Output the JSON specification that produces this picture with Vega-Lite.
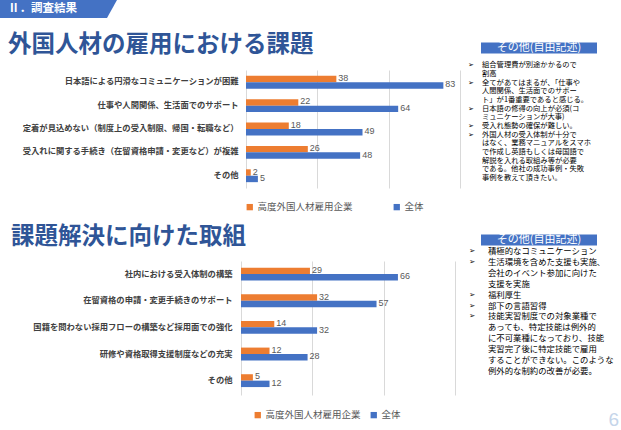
{
  "$schema": "https://vega.github.io/schema/vega-lite/v6.json",
  "padding": 0,
  "background": "white",
  "config": {
    "view": {"stroke": null},
    "font": "Noto Sans CJK JP"
  },
  "datasets": {
    "hdr": [{"label": "Ⅱ．調査結果"}],
    "z": [{"z": 0}],
    "c1": [
      {"cat": "日本語による円滑なコミュニケーションが困難", "series": "高度外国人材雇用企業", "value": 38},
      {"cat": "日本語による円滑なコミュニケーションが困難", "series": "全体", "value": 83},
      {"cat": "仕事や人間関係、生活面でのサポート", "series": "高度外国人材雇用企業", "value": 22},
      {"cat": "仕事や人間関係、生活面でのサポート", "series": "全体", "value": 64},
      {"cat": "定着が見込めない（制度上の受入制限、帰国・転職など）", "series": "高度外国人材雇用企業", "value": 18},
      {"cat": "定着が見込めない（制度上の受入制限、帰国・転職など）", "series": "全体", "value": 49},
      {"cat": "受入れに関する手続き（在留資格申請・変更など）が複雑", "series": "高度外国人材雇用企業", "value": 26},
      {"cat": "受入れに関する手続き（在留資格申請・変更など）が複雑", "series": "全体", "value": 48},
      {"cat": "その他", "series": "高度外国人材雇用企業", "value": 2},
      {"cat": "その他", "series": "全体", "value": 5}
    ],
    "c2": [
      {"cat": "社内における受入体制の構築", "series": "高度外国人材雇用企業", "value": 29},
      {"cat": "社内における受入体制の構築", "series": "全体", "value": 66},
      {"cat": "在留資格の申請・変更手続きのサポート", "series": "高度外国人材雇用企業", "value": 32},
      {"cat": "在留資格の申請・変更手続きのサポート", "series": "全体", "value": 57},
      {"cat": "国籍を問わない採用フローの構築など採用面での強化", "series": "高度外国人材雇用企業", "value": 14},
      {"cat": "国籍を問わない採用フローの構築など採用面での強化", "series": "全体", "value": 32},
      {"cat": "研修や資格取得支援制度などの充実", "series": "高度外国人材雇用企業", "value": 12},
      {"cat": "研修や資格取得支援制度などの充実", "series": "全体", "value": 28},
      {"cat": "その他", "series": "高度外国人材雇用企業", "value": 5},
      {"cat": "その他", "series": "全体", "value": 12}
    ],
    "p1": [
      {"n": 0, "kind": "h", "t": "その他(自由記述)"},
      {"n": 2, "kind": "t", "m": "➢", "t": "組合管理費が別途かかるので"},
      {"n": 3, "kind": "t", "t": "割高"},
      {"n": 4, "kind": "t", "m": "➢", "t": "全てがあてはまるが、「仕事や"},
      {"n": 5, "kind": "t", "t": "人間関係、生活面でのサポー"},
      {"n": 6, "kind": "t", "t": "ト」が1番重要であると感じる。"},
      {"n": 7, "kind": "t", "m": "➢", "t": "日本語の修得の向上が必須(コ"},
      {"n": 8, "kind": "t", "t": "ミュニケーションが大事)"},
      {"n": 9, "kind": "t", "m": "➢", "t": "受入れ態勢の確保が難しい。"},
      {"n": 10, "kind": "t", "m": "➢", "t": "外国人材の受入体制が十分で"},
      {"n": 11, "kind": "t", "t": "はなく、業務マニュアルをスマホ"},
      {"n": 12, "kind": "t", "t": "で作成し英語もしくは母国語で"},
      {"n": 13, "kind": "t", "t": "解説を入れる取組み等が必要"},
      {"n": 14, "kind": "t", "t": "である。他社の成功事例・失敗"},
      {"n": 15, "kind": "t", "t": "事例を教えて頂きたい。"}
    ],
    "p2": [
      {"n": 0, "kind": "h", "t": "その他(自由記述)"},
      {"n": 1, "kind": "t", "m": "➢", "t": "積極的なコミュニケーション"},
      {"n": 2, "kind": "t", "m": "➢", "t": "生活環境を含めた支援も実施、"},
      {"n": 3, "kind": "t", "t": "会社のイベント参加に向けた"},
      {"n": 4, "kind": "t", "t": "支援を実施"},
      {"n": 5, "kind": "t", "m": "➢", "t": "福利厚生"},
      {"n": 6, "kind": "t", "m": "➢", "t": "部下の言語習得"},
      {"n": 7, "kind": "t", "m": "➢", "t": "技能実習制度での対象業種で"},
      {"n": 8, "kind": "t", "t": "あっても、特定技能は例外的"},
      {"n": 9, "kind": "t", "t": "に不可業種になっており、技能"},
      {"n": 10, "kind": "t", "t": "実習完了後に特定技能で雇用"},
      {"n": 11, "kind": "t", "t": "することができない。このような"},
      {"n": 12, "kind": "t", "t": "例外的な制約の改善が必要。"},
      {"n": 16, "kind": "page", "t": "6"}
    ]
  },
  "spacing": 14,
  "vconcat": [
    {
      "data": {"name": "hdr"},
      "width": 117,
      "height": 18,
      "layer": [
        {
          "mark": {"type": "point", "shape": "M-1,-0.1538L1,-0.1538L0.829,0.1538L-1,0.1538Z", "size": 13689, "filled": true, "color": "#4472C4", "fill": "#4472C4", "opacity": 1, "strokeWidth": 0},
          "encoding": {}
        },
        {
          "mark": {"type": "text", "align": "left", "baseline": "middle", "dx": -50.5, "color": "white", "fontSize": 11.5, "fontWeight": "bold"},
          "encoding": {"text": {"field": "label"}}
        }
      ]
    },
    {
      "spacing": 12,
      "resolve": {"scale": {"color": "independent"}, "legend": {"color": "independent"}},
      "vconcat": [
        {
          "spacing": 7,
          "resolve": {"scale": {"color": "independent"}, "legend": {"color": "independent"}},
          "hconcat": [
            {
              "data": {"name": "z"},
              "width": 1,
              "height": 1,
              "mark": {"type": "point", "size": 0, "opacity": 0},
              "encoding": {}
            },
            {
              "data": {"name": "c1"},
              "width": 214,
              "height": 118,
              "title": {"text": "外国人材の雇用における課題", "anchor": "start", "frame": "group", "dx": -238, "fontSize": 23.5, "fontWeight": "bold", "color": "#2F5597", "offset": 14},
              "encoding": {
                "y": {"field": "cat", "type": "nominal", "sort": null, "scale": {"paddingInner": 0.45, "paddingOuter": 0.25},
                      "axis": {"title": null, "domain": false, "ticks": false, "labelPadding": 8, "minExtent": 238, "maxExtent": 238, "labelFontSize": 8.3, "labelFontWeight": "bold", "labelColor": "#404040", "labelLimit": 300}},
                "x": {"field": "value", "type": "quantitative", "scale": {"domain": [0, 90], "nice": false},
                      "axis": {"title": null, "labels": false, "ticks": false, "domain": false, "values": [0, 30, 60, 90], "grid": true, "gridColor": "#D9D9D9"}},
                "yOffset": {"field": "series", "type": "nominal", "sort": ["高度外国人材雇用企業", "全体"]}
              },
              "layer": [
                {
                  "mark": {"type": "bar"},
                  "encoding": {
                    "color": {"field": "series", "type": "nominal", "sort": ["高度外国人材雇用企業", "全体"],
                              "scale": {"domain": ["高度外国人材雇用企業", "全体"], "range": ["#ED7D31", "#4472C4"]},
                              "legend": {"orient": "none", "legendX": -1, "legendY": 132, "direction": "horizontal", "title": null, "symbolType": "square", "symbolSize": 40, "symbolStrokeWidth": 0, "labelFontSize": 9.5, "labelColor": "#595959", "labelOffset": 3, "columnPadding": 39, "padding": 0, "labelLimit": 200}}
                  }
                },
                {
                  "mark": {"type": "text", "align": "left", "baseline": "middle", "dx": 2, "dy": -1, "fontSize": 9, "color": "#595959", "font": "Liberation Sans"},
                  "encoding": {"text": {"field": "value", "type": "quantitative"}}
                }
              ]
            },
            {
              "data": {"name": "p1"},
              "width": 144,
              "height": 120,
              "encoding": {
                "y": {"field": "n", "type": "quantitative", "scale": {"domain": [2.542, 16.408], "nice": false, "zero": false, "reverse": true}, "axis": null}
              },
              "layer": [
                {
                  "transform": [{"filter": "datum.kind == 'h'"}],
                  "mark": {"type": "point", "shape": "M-1,-0.095L1,-0.095L1,0.095L-1,0.095Z", "size": 13456, "filled": true, "color": "#4472C4", "fill": "#4472C4", "opacity": 1, "strokeWidth": 0}
                },
                {
                  "transform": [{"filter": "datum.kind == 'h'"}],
                  "mark": {"type": "text", "baseline": "middle", "color": "white", "fontSize": 11},
                  "encoding": {"text": {"field": "t"}}
                },
                {
                  "transform": [{"filter": "datum.m"}],
                  "mark": {"type": "text", "align": "left", "baseline": "middle", "x": 1, "font": "DejaVu Sans", "fontSize": 7, "color": "#000000"},
                  "encoding": {"text": {"field": "m"}}
                },
                {
                  "transform": [{"filter": "datum.kind == 't'"}],
                  "mark": {"type": "text", "align": "left", "baseline": "middle", "x": 15, "fontSize": 7.3, "color": "#000000"},
                  "encoding": {"text": {"field": "t"}}
                }
              ]
            }
          ]
        },
        {
          "spacing": 7,
          "resolve": {"scale": {"color": "independent"}, "legend": {"color": "independent"}},
          "hconcat": [
            {
              "data": {"name": "z"},
              "width": 1,
              "height": 1,
              "mark": {"type": "point", "size": 0, "opacity": 0},
              "encoding": {}
            },
            {
              "data": {"name": "c2"},
              "width": 214,
              "height": 134,
              "title": {"text": "課題解決に向けた取組", "anchor": "start", "frame": "group", "dx": -230, "fontSize": 23.5, "fontWeight": "bold", "color": "#2F5597", "offset": 13},
              "encoding": {
                "y": {"field": "cat", "type": "nominal", "sort": null, "scale": {"paddingInner": 0.47, "paddingOuter": 0.25},
                      "axis": {"title": null, "domain": false, "ticks": false, "labelPadding": 9, "minExtent": 233, "maxExtent": 233, "labelFontSize": 8.3, "labelFontWeight": "bold", "labelColor": "#404040", "labelLimit": 300}},
                "x": {"field": "value", "type": "quantitative", "scale": {"domain": [0, 90], "nice": false},
                      "axis": {"title": null, "labels": false, "ticks": false, "domain": false, "values": [0, 30, 60, 90], "grid": true, "gridColor": "#D9D9D9"}},
                "yOffset": {"field": "series", "type": "nominal", "sort": ["高度外国人材雇用企業", "全体"]}
              },
              "layer": [
                {
                  "mark": {"type": "bar"},
                  "encoding": {
                    "color": {"field": "series", "type": "nominal", "sort": ["高度外国人材雇用企業", "全体"],
                              "scale": {"domain": ["高度外国人材雇用企業", "全体"], "range": ["#ED7D31", "#4472C4"]},
                              "legend": {"orient": "none", "legendX": 12, "legendY": 149, "direction": "horizontal", "title": null, "symbolType": "square", "symbolSize": 40, "symbolStrokeWidth": 0, "labelFontSize": 9.5, "labelColor": "#595959", "labelOffset": 3, "columnPadding": 8, "padding": 0, "labelLimit": 200}}
                  }
                },
                {
                  "mark": {"type": "text", "align": "left", "baseline": "middle", "dx": 2, "dy": -1, "fontSize": 9, "color": "#595959", "font": "Liberation Sans"},
                  "encoding": {"text": {"field": "value", "type": "quantitative"}}
                }
              ]
            },
            {
              "data": {"name": "p2"},
              "width": 154,
              "height": 160,
              "encoding": {
                "y": {"field": "n", "type": "quantitative", "scale": {"domain": [1.916, 16.581], "nice": false, "zero": false, "reverse": true}, "axis": null}
              },
              "layer": [
                {
                  "transform": [{"filter": "datum.kind == 'h'"}],
                  "mark": {"type": "point", "shape": "M-1,-0.095L1,-0.095L1,0.095L-1,0.095Z", "size": 13456, "filled": true, "color": "#4472C4", "fill": "#4472C4", "opacity": 1, "strokeWidth": 0}
                },
                {
                  "transform": [{"filter": "datum.kind == 'h'"}],
                  "mark": {"type": "text", "baseline": "middle", "dy": -0.5, "color": "white", "fontSize": 11},
                  "encoding": {"text": {"field": "t"}}
                },
                {
                  "transform": [{"filter": "datum.m"}],
                  "mark": {"type": "text", "align": "left", "baseline": "middle", "x": 7, "font": "DejaVu Sans", "fontSize": 7.5, "color": "#000000"},
                  "encoding": {"text": {"field": "m"}}
                },
                {
                  "transform": [{"filter": "datum.kind == 't'"}],
                  "mark": {"type": "text", "align": "left", "baseline": "middle", "x": 26, "fontSize": 8.4, "color": "#000000"},
                  "encoding": {"text": {"field": "t"}}
                },
                {
                  "transform": [{"filter": "datum.kind == 'page'"}],
                  "mark": {"type": "text", "align": "right", "baseline": "middle", "x": 157, "dy": 5, "fontSize": 19, "color": "#C5D5EA", "font": "Liberation Sans"},
                  "encoding": {"text": {"field": "t"}}
                }
              ]
            }
          ]
        }
      ]
    }
  ]
}
